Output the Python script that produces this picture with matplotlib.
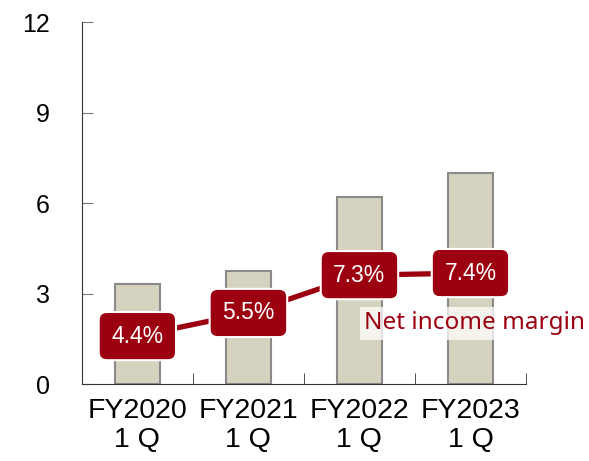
import matplotlib.pyplot as plt

plt.rcParams['font.family'] = ['Liberation Sans', 'DejaVu Sans']

categories = ["FY2020\n1 Q", "FY2021\n1 Q", "FY2022\n1 Q", "FY2023\n1 Q"]
net_income = [3.3, 3.75, 6.2, 7.0]
margin = [4.4, 5.5, 7.3, 7.4]
margin_labels = ["4.4%", "5.5%", "7.3%", "7.4%"]

red = "#9c0010"
x = list(range(len(categories)))

fig = plt.figure(figsize=(5.89, 4.61), dpi=100)
ax = fig.add_axes([0.139, 0.167, 0.754, 0.785])
ax.bar(x, net_income, width=0.4, color="#d5d2bf", edgecolor="#8a8a8a", linewidth=1.5, zorder=2)
ax.set_xlim(-0.5, 3.5)
ax.set_ylim(0, 12)
ax.set_yticks([0, 3, 6, 9, 12])
ax.tick_params(axis='y', direction='in', length=8, color='#777777', labelsize=18, pad=23)
ax.set_xticks(x)
ax.set_xticklabels(categories, fontsize=20.5, linespacing=1.15)
ax.tick_params(axis='x', length=0, pad=10)
ax.set_xticks([0.5, 1.5, 2.5, 3.5], minor=True)
ax.tick_params(axis='x', which='minor', direction='in', length=8, color='#333333')
for s in ['top', 'right']:
    ax.spines[s].set_visible(False)
ax.spines['left'].set_color('#333333')
ax.spines['bottom'].set_color('#333333')

# margin on a hidden secondary scale
ax2 = ax.twinx()
ax2.set_ylim(2.12, 19.34)
ax2.axis('off')
ax2.plot(x, margin, color=red, linewidth=3.8, zorder=3)
for xi, m, lab in zip(x, margin, margin_labels):
    ax2.text(xi, m, lab, ha='center', va='center', color='white', fontsize=16.5,
             zorder=5,
             bbox=dict(boxstyle='round,pad=0.55,rounding_size=0.35', fc=red, ec='white', lw=1.5))

ax2.text(3.04, 5.0, "Net income margin", ha='center', va='center', color=red, fontsize=17.5,
         family=['Noto Sans', 'DejaVu Sans'], zorder=4,
         bbox=dict(boxstyle='square,pad=0.2', fc='white', ec='none', alpha=0.75))

fig.savefig("out.png", dpi=100)
